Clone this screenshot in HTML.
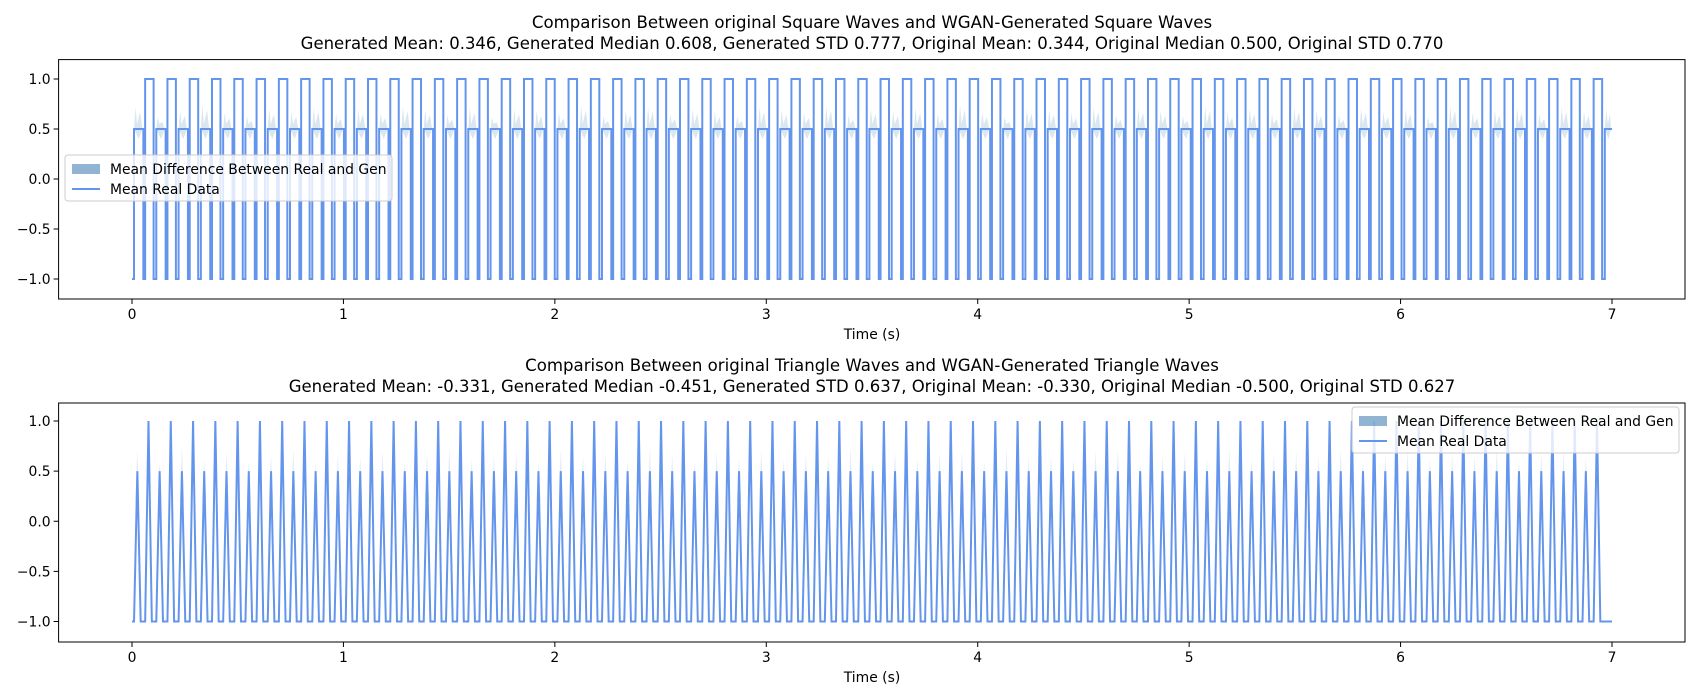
<!DOCTYPE html>
<html><head><meta charset="utf-8"><style>
body{margin:0;background:#fff;}
svg{display:block;font-family:"DejaVu Sans","Liberation Sans",sans-serif;}
</style></head><body>
<svg id="chart" width="1700" height="700"></svg>
<script>
// ---- data ----
const xTicks = [0,1,2,3,4,5,6,7];
const yTicks = [1.0,0.5,0.0,-0.5,-1.0];
const yTickLabels = ["1.0","0.5","0.0","−0.5","−1.0"];
const period = 0.1054;          // seconds per cycle
const tStart = 0.0095;          // first rise
const tEnd = 7.0;
const squareLevels = [0.5,-1,1,-1];
const squareFrac = [0.42,0.08,0.38,0.12];
const triTimesFrac = [0,0.15,0.30,0.50,0.65,0.80,1.0];
const triValues = [-1,0.5,-1,-1,1,-1,-1];
const sqSpikes = [0.72,0.62,0.68,0.74,0.66,0.63,0.7,0.67,0.72,0.65,0.7,0.66,0.73,0.69,0.64,0.71,0.62,0.7,0.68,0.66,0.74,0.63,0.69,0.72,0.65,0.7,0.67,0.63,0.72,0.69,0.66,0.73,0.64,0.7,0.68,0.71,0.65,0.74,0.67,0.62,0.7,0.69,0.66,0.72,0.64,0.71,0.68,0.63,0.73,0.66,0.7,0.65,0.72,0.68,0.64,0.71,0.67,0.7,0.62,0.73,0.66,0.69,0.71,0.65,0.72,0.68,0.7];
const triSpikes = [0.72,0.58,0.75,0.62,0.7,0.6,0.66,0.73,0.58,0.68,0.64,0.71,0.6,0.69,0.74,0.62,0.66,0.7,0.59,0.72,0.65,0.68,0.61,0.73,0.67,0.6,0.7,0.64,0.72,0.62,0.69,0.66,0.74,0.6,0.7,0.63,0.68,0.71,0.6,0.73,0.65,0.67,0.62,0.7,0.72,0.6,0.66,0.69,0.63,0.74,0.61,0.68,0.7,0.64,0.72,0.6,0.67,0.71,0.63,0.69,0.66,0.73,0.6,0.68,0.7,0.64,0.71];

const NS="http://www.w3.org/2000/svg";
const svg=document.getElementById('chart');
function mk(tag,attrs,parent){const e=document.createElementNS(NS,tag);for(const k in attrs)e.setAttribute(k,attrs[k]);(parent||svg).appendChild(e);return e;}

const X0=58.6,X1=1685;
const xs=t=>132+t*(1612-132)/7;
function drawPanel(p){
  const ys=v=>p.yM1+(v+1)*(p.y1-p.yM1)/2;
  const g=mk('g',{});
  
  
  const t1=mk('text',{x:872,y:p.titleY,'text-anchor':'middle','font-size':'16.6',fill:'#000'},g);
  t1.textContent=p.title1;
  
  
  const t2=mk('text',{x:872,y:p.titleY+21,'text-anchor':'middle','font-size':'16.5',fill:'#000'},g);
  t2.textContent=p.title2;
  
  
  const cp=mk('clipPath',{id:'c'+p.id},g);mk('rect',{x:X0,y:p.top,width:X1-X0,height:p.bot-p.top},cp);
  const sh=mk('g',{'clip-path':'url(#c'+p.id+')'},g);
  
  
  let pts=[];
  if(p.kind==='square'){
    pts.push([0,-1],[tStart,-1]);
    let t=tStart,i=0;
    while(t<tEnd-0.001){
      for(let k=0;k<4;k++){
        const v=squareLevels[k];let t2=Math.min(t+squareFrac[k]*period,tEnd);
        pts.push([t,v],[t2,v]);
        if(k===0){
          const s=sqSpikes[i%sqSpikes.length];
          const a=xs(t),b=xs(t2),m=(a+b)/2;
          const poly=mk('polygon',{points:`${a},${ys(0.5)} ${a+1.5},${ys(s)} ${a+3},${ys(0.55)} ${m+1.5},${ys(s-0.05)} ${b-1},${ys(0.5)} ${m},${ys(0.4)}`,fill:'#4682b4','fill-opacity':'0.2'},sh);
          
          
        }
        t=t2; if(t>=tEnd)break;
      }
      i++;
    }
  } else {
    pts.push([0,-1]);
    let t=tStart,i=0;
    while(t+period<=tEnd){
      for(let k=0;k<triTimesFrac.length;k++)pts.push([t+triTimesFrac[k]*period,triValues[k]]);
      const s=triSpikes[i%triSpikes.length];
      const pk=xs(t+0.15*period);
      const poly=mk('polygon',{points:`${pk-2},${ys(0.2)} ${pk},${ys(s)} ${pk+2},${ys(0.2)}`,fill:'#4682b4','fill-opacity':'0.15'},sh);
      
      
      t+=period;i++;
    }
    pts.push([tEnd,-1]);
  }
  const line=mk('polyline',{points:pts.map(q=>xs(q[0]).toFixed(2)+','+ys(q[1]).toFixed(2)).join(' '),fill:'none',stroke:'#6495ed','stroke-width':'2','stroke-linejoin':'miter'},sh);
  
  
  const fr=mk('rect',{x:X0,y:p.top,width:X1-X0,height:p.bot-p.top,fill:'none',stroke:'#000','stroke-width':'1'},g);
  
  
  xTicks.forEach(v=>{
    const x=xs(v);
    mk('line',{x1:x,y1:p.bot,x2:x,y2:p.bot+5,stroke:'#000'},g);
    const tl=mk('text',{x:x,y:p.bot+20,'text-anchor':'middle','font-size':'13.9'},g);
    tl.textContent=v;
    
    
  });
  yTicks.forEach((v,i)=>{
    const y=ys(v);
    mk('line',{x1:X0-5,y1:y,x2:X0,y2:y,stroke:'#000'},g);
    const tl=mk('text',{x:X0-8,y:y+5,'text-anchor':'end','font-size':'13.9'},g);
    tl.textContent=yTickLabels[i];
    
    
  });
  const xl=mk('text',{x:872,y:p.bot+40,'text-anchor':'middle','font-size':'13.9'},g);
  xl.textContent='Time (s)';
  
  
  const lg=mk('g',{},g);
  
  
  mk('rect',{x:p.lx,y:p.ly,width:327,height:46,rx:3,fill:'#fff','fill-opacity':'0.8',stroke:'#ccc'},lg);
  const pr=mk('rect',{x:p.lx+7,y:p.ly+9,width:28,height:10,fill:'#4682b4','fill-opacity':'0.6'},lg);
  
  
  const l1=mk('text',{x:p.lx+45,y:p.ly+19,'font-size':'13.9'},lg);l1.textContent='Mean Difference Between Real and Gen';
  mk('line',{x1:p.lx+7,y1:p.ly+34,x2:p.lx+35,y2:p.ly+34,stroke:'#6495ed','stroke-width':'2'},lg);
  const l2=mk('text',{x:p.lx+45,y:p.ly+39,'font-size':'13.9'},lg);l2.textContent='Mean Real Data';
  
  
}
drawPanel({id:1,name:'square-wave-panel',kind:'square',top:59.6,bot:299,y1:79,yM1:279,titleY:28,lx:65,ly:155,
  title1:'Comparison Between original Square Waves and WGAN-Generated Square Waves',
  title2:'Generated Mean: 0.346, Generated Median 0.608, Generated STD 0.777, Original Mean: 0.344, Original Median 0.500, Original STD 0.770'});
drawPanel({id:2,name:'triangle-wave-panel',kind:'tri',top:403,bot:642,y1:421,yM1:621.5,titleY:371,lx:1352,ly:407,
  title1:'Comparison Between original Triangle Waves and WGAN-Generated Triangle Waves',
  title2:'Generated Mean: -0.331, Generated Median -0.451, Generated STD 0.637, Original Mean: -0.330, Original Median -0.500, Original STD 0.627'});
</script>
</body></html>
